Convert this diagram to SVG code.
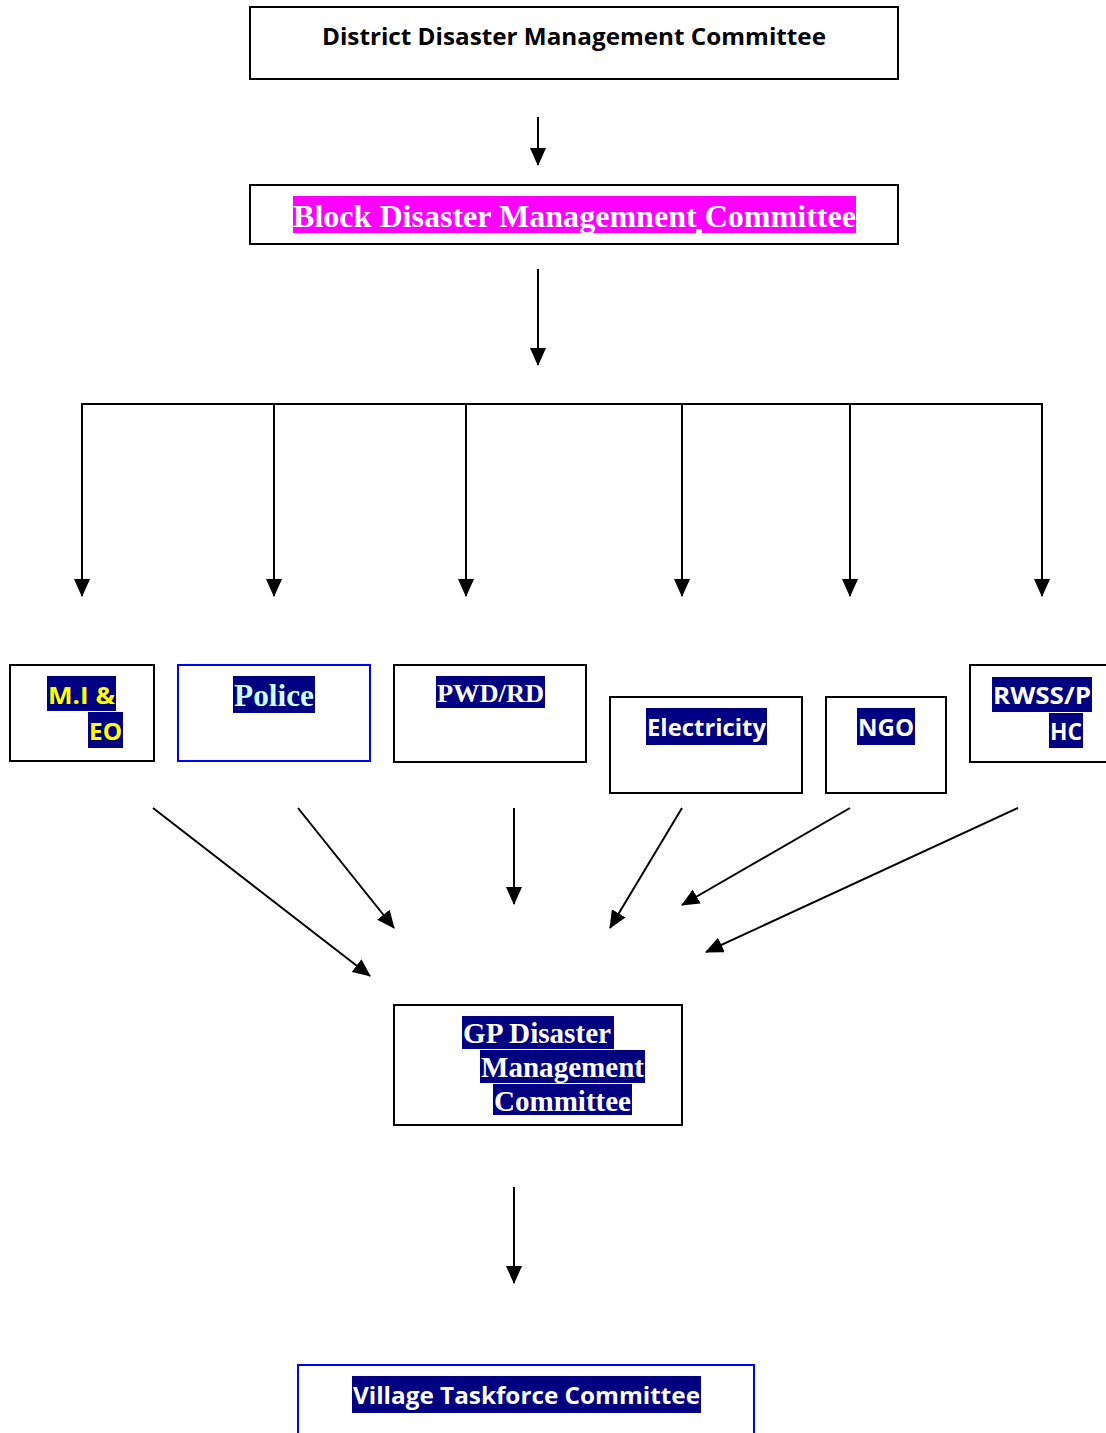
<svg xmlns="http://www.w3.org/2000/svg" width="1106" height="1433" viewBox="0 0 1106 1433">
  <style>
    .box { fill: #fff; stroke: #000; stroke-width: 2; }
    .box-blue { fill: #fff; stroke: #0000ff; stroke-width: 2; }
    .hl { fill: #000080; }
    .sans { font-family: "Open Sans", "Liberation Sans", sans-serif; font-weight: bold; }
    .serif { font-family: "Liberation Serif", "Times New Roman", serif; font-weight: bold; }
    .white { fill: #fff; }
    .link { stroke: #000; stroke-width: 2; fill: none; }
    .arrow { stroke: #000; stroke-width: 2; fill: none; marker-end: url(#head); }
  </style>
  <defs>
    <marker id="head" markerUnits="userSpaceOnUse" markerWidth="18" markerHeight="16" viewBox="0 0 18 16" refX="17" refY="8" orient="auto">
      <path d="M0,0 L18,8 L0,16 Z" fill="#000"/>
    </marker>
  </defs>

  <rect width="1106" height="1433" fill="#fff"/>

  <!-- district level -->
  <g id="district">
    <rect class="box" x="250" y="7" width="648" height="72"/>
    <text class="sans" x="322" y="45" font-size="23" textLength="504" lengthAdjust="spacingAndGlyphs" fill="#000">District Disaster Management Committee</text>
  </g>

  <!-- block level -->
  <g id="block">
    <rect class="box" x="250" y="185" width="648" height="59"/>
    <rect x="293" y="196" width="563" height="37" fill="#ff00ff"/>
    <rect x="696" y="229" width="6" height="4" fill="#fff"/>
    <text class="serif white" x="293" y="227" font-size="32" textLength="563" lengthAdjust="spacingAndGlyphs">Block Disaster Managemnent Committee</text>
  </g>

  <!-- line departments -->
  <g id="mi-eo">
    <rect class="box" x="10" y="665" width="144" height="96"/>
    <rect class="hl" x="47" y="676" width="69" height="35"/>
    <rect class="hl" x="88" y="712" width="35" height="36"/>
    <text class="sans" x="48" y="704" font-size="23" fill="#ffff00" textLength="67" lengthAdjust="spacingAndGlyphs">M.I &amp;</text>
    <text class="sans" x="89" y="740" font-size="23" fill="#ffff00" textLength="33" lengthAdjust="spacingAndGlyphs">EO</text>
  </g>

  <g id="police">
    <rect class="box-blue" x="178" y="665" width="192" height="96"/>
    <rect class="hl" x="233" y="676" width="82" height="37"/>
    <text class="serif" x="234" y="706" font-size="31" fill="#ccffff" textLength="80" lengthAdjust="spacingAndGlyphs">Police</text>
  </g>

  <g id="pwd-rd">
    <rect class="box" x="394" y="665" width="192" height="97"/>
    <rect class="hl" x="436" y="676" width="109" height="32"/>
    <text class="serif white" x="437" y="702" font-size="25" textLength="107" lengthAdjust="spacingAndGlyphs">PWD/RD</text>
  </g>

  <g id="electricity">
    <rect class="box" x="610" y="697" width="192" height="96"/>
    <rect class="hl" x="646" y="708" width="121" height="37"/>
    <text class="sans white" x="647" y="736" font-size="24" textLength="119" lengthAdjust="spacingAndGlyphs">Electricity</text>
  </g>

  <g id="ngo">
    <rect class="box" x="826" y="697" width="120" height="96"/>
    <rect class="hl" x="857" y="708" width="58" height="37"/>
    <text class="sans white" x="858" y="736" font-size="24" textLength="56" lengthAdjust="spacingAndGlyphs">NGO</text>
  </g>

  <g id="rwss-phc">
    <rect class="box" x="970" y="665" width="140" height="97"/>
    <rect class="hl" x="992" y="677" width="100" height="35"/>
    <rect class="hl" x="1049" y="713" width="34" height="35"/>
    <text class="sans white" x="993" y="704" font-size="23" textLength="98" lengthAdjust="spacingAndGlyphs">RWSS/P</text>
    <text class="sans white" x="1050" y="740" font-size="23" textLength="32" lengthAdjust="spacingAndGlyphs">HC</text>
  </g>

  <!-- gram panchayat level -->
  <g id="gp">
    <rect class="box" x="394" y="1005" width="288" height="120"/>
    <rect class="hl" x="462" y="1016" width="152" height="33"/>
    <rect class="hl" x="480" y="1050" width="165" height="33"/>
    <rect class="hl" x="493" y="1084" width="139" height="31"/>
    <text class="serif white" x="463" y="1043" font-size="29" textLength="148" lengthAdjust="spacingAndGlyphs">GP Disaster</text>
    <text class="serif white" x="481" y="1077" font-size="29" textLength="163" lengthAdjust="spacingAndGlyphs">Management</text>
    <text class="serif white" x="494" y="1111" font-size="29" textLength="137" lengthAdjust="spacingAndGlyphs">Committee</text>
  </g>

  <!-- village level -->
  <g id="village">
    <rect class="box-blue" x="298" y="1365" width="456" height="80"/>
    <rect class="hl" x="352" y="1376" width="349" height="37"/>
    <text class="sans white" x="353" y="1404" font-size="24" textLength="347" lengthAdjust="spacingAndGlyphs">Village Taskforce Committee</text>
  </g>

  <!-- connectors -->
  <g id="connectors">
    <line class="arrow" x1="538" y1="117" x2="538" y2="165"/>
    <line class="arrow" x1="538" y1="269" x2="538" y2="365"/>

    <polyline class="link" points="82,404 1042,404"/>
    <line class="arrow" x1="82" y1="403" x2="82" y2="596"/>
    <line class="arrow" x1="274" y1="403" x2="274" y2="596"/>
    <line class="arrow" x1="466" y1="403" x2="466" y2="596"/>
    <line class="arrow" x1="682" y1="403" x2="682" y2="596"/>
    <line class="arrow" x1="850" y1="403" x2="850" y2="596"/>
    <line class="arrow" x1="1042" y1="403" x2="1042" y2="596"/>

    <line class="arrow" x1="153" y1="808" x2="370" y2="976"/>
    <line class="arrow" x1="298" y1="808" x2="394" y2="928"/>
    <line class="arrow" x1="514" y1="808" x2="514" y2="904"/>
    <line class="arrow" x1="682" y1="808" x2="610" y2="928"/>
    <line class="arrow" x1="850" y1="808" x2="682" y2="905"/>
    <line class="arrow" x1="1018" y1="808" x2="706" y2="952"/>

    <line class="arrow" x1="514" y1="1187" x2="514" y2="1283"/>
  </g>
</svg>
